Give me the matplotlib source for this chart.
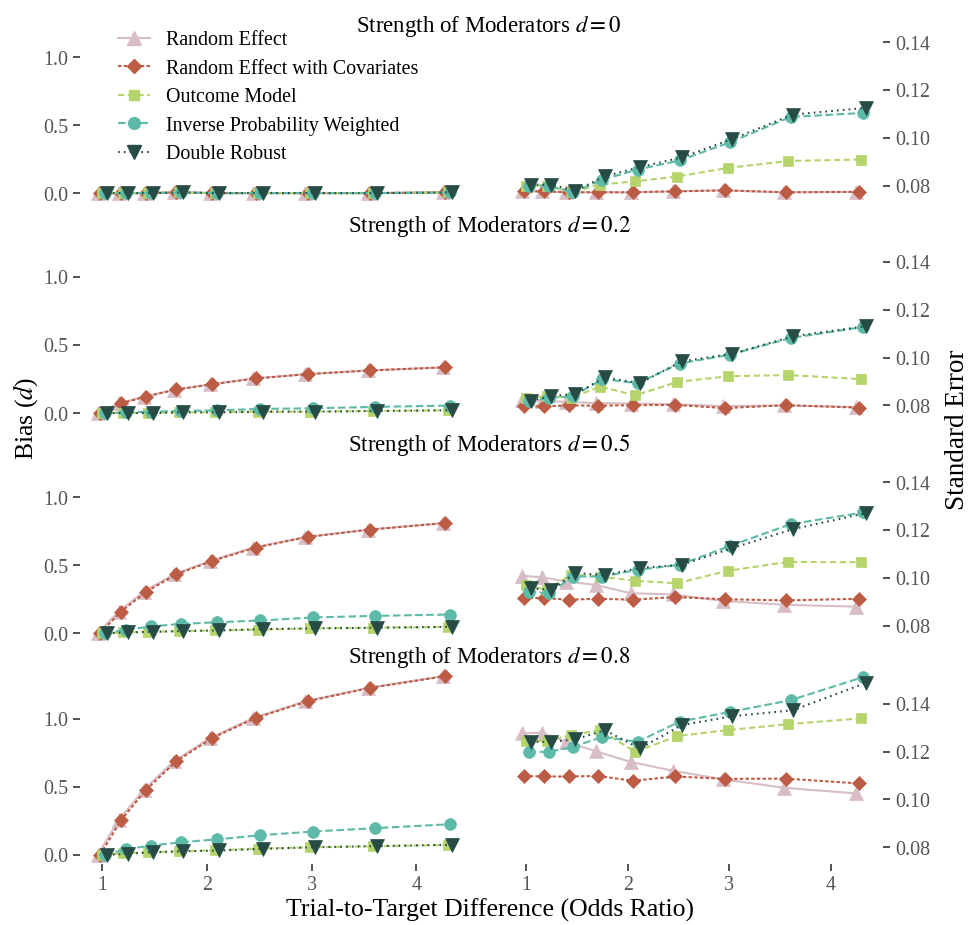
import matplotlib
matplotlib.use("Agg")
import matplotlib.pyplot as plt
from matplotlib.lines import Line2D

plt.rcParams['font.family'] = ['Liberation Serif', 'DejaVu Serif']
plt.rcParams['mathtext.fontset'] = 'stix'
plt.rcParams['lines.scale_dashes'] = False

# x values: trial-to-target odds ratio
odds_ratio = [1.0, 1.2, 1.44, 1.728, 2.074, 2.488, 2.986, 3.583, 4.3]
strengths = ['0', '0.2', '0.5', '0.8']
methods = ['Random Effect', 'Random Effect with Covariates', 'Outcome Model',
           'Inverse Probability Weighted', 'Double Robust']

# bias, one list per moderator strength
bias_re = [[0.0, 0.0, 0.0, 0.005, 0.0, 0.0, 0.0, 0.0, 0.005],
           [0.0, 0.07, 0.12, 0.17, 0.21, 0.254, 0.285, 0.313, 0.335],
           [0.0, 0.158, 0.304, 0.432, 0.531, 0.629, 0.707, 0.761, 0.809],
           [0.0, 0.256, 0.479, 0.688, 0.86, 1.007, 1.13, 1.228, 1.314]]
bias_recov = [[0.0, 0.0, 0.0, 0.005, 0.0, 0.0, 0.0, 0.0, 0.005],
              [0.0, 0.071, 0.121, 0.173, 0.212, 0.254, 0.286, 0.313, 0.336],
              [0.0, 0.158, 0.304, 0.432, 0.531, 0.629, 0.707, 0.761, 0.809],
              [0.0, 0.256, 0.479, 0.688, 0.86, 1.007, 1.13, 1.228, 1.314]]
bias_om = [[0.0, 0.0, 0.0, 0.005, 0.0, 0.0, 0.0, 0.0, 0.005],
           [0.0, 0.0, 0.0, 0.005, 0.005, 0.01, 0.01, 0.015, 0.02],
           [0.0, 0.005, 0.01, 0.015, 0.02, 0.025, 0.035, 0.04, 0.045],
           [0.0, 0.012, 0.02, 0.027, 0.034, 0.047, 0.056, 0.064, 0.074]]
bias_ipw = [[0.0, 0.0, 0.0, 0.005, 0.0, 0.0, 0.0, 0.0, 0.005],
            [0.0, 0.005, 0.01, 0.015, 0.02, 0.03, 0.035, 0.045, 0.055],
            [0.0, 0.024, 0.049, 0.068, 0.08, 0.093, 0.115, 0.127, 0.137],
            [0.0, 0.042, 0.069, 0.093, 0.115, 0.145, 0.172, 0.197, 0.226]]
bias_dr = [[0.0, 0.0, 0.0, 0.005, 0.0, 0.0, 0.0, 0.0, 0.005],
           [0.0, 0.0, 0.0, 0.005, 0.005, 0.01, 0.01, 0.015, 0.02],
           [0.0, 0.005, 0.01, 0.015, 0.02, 0.03, 0.035, 0.04, 0.047],
           [0.0, 0.01, 0.02, 0.027, 0.033, 0.045, 0.057, 0.065, 0.075]]

# standard error, one list per moderator strength
se_re = [[0.0776, 0.0776, 0.0772, 0.0772, 0.0772, 0.0776, 0.0780, 0.0772, 0.0774],
         [0.0822, 0.0818, 0.0815, 0.0810, 0.0808, 0.0805, 0.0797, 0.0800, 0.0793],
         [0.1008, 0.1002, 0.0984, 0.0970, 0.0935, 0.0930, 0.0903, 0.0887, 0.0879],
         [0.1276, 0.1279, 0.1241, 0.1202, 0.1157, 0.1120, 0.1084, 0.1049, 0.1025]]
se_recov = [[0.0776, 0.0776, 0.0772, 0.0772, 0.0772, 0.0776, 0.0780, 0.0772, 0.0774],
            [0.0796, 0.0796, 0.0800, 0.0799, 0.0801, 0.0802, 0.0789, 0.0801, 0.0791],
            [0.0915, 0.0915, 0.0908, 0.0912, 0.0908, 0.0919, 0.0910, 0.0905, 0.0912],
            [0.1098, 0.1096, 0.1096, 0.1098, 0.1078, 0.1096, 0.1086, 0.1087, 0.1067]]
se_om = [[0.0800, 0.0800, 0.0772, 0.0804, 0.0818, 0.0838, 0.0874, 0.0903, 0.0909],
         [0.0831, 0.0839, 0.0831, 0.0879, 0.0842, 0.0898, 0.0922, 0.0927, 0.0910],
         [0.0970, 0.0949, 0.1012, 0.1005, 0.0987, 0.0977, 0.1029, 0.1066, 0.1065],
         [0.1245, 0.1245, 0.1269, 0.1290, 0.1199, 0.1265, 0.1290, 0.1315, 0.1339]]
se_ipw = [[0.0800, 0.0800, 0.0772, 0.0825, 0.0867, 0.0905, 0.0981, 0.1087, 0.1104],
          [0.0817, 0.0831, 0.0839, 0.0910, 0.0893, 0.0975, 0.1012, 0.1082, 0.1128],
          [0.0942, 0.0935, 0.1005, 0.1005, 0.1033, 0.1054, 0.1133, 0.1224, 0.1273],
          [0.1199, 0.1199, 0.1220, 0.1262, 0.1241, 0.1325, 0.1366, 0.1415, 0.1512]]
se_dr = [[0.0804, 0.0804, 0.0778, 0.0839, 0.0877, 0.0918, 0.0995, 0.1097, 0.1125],
         [0.0820, 0.0839, 0.0848, 0.0917, 0.0893, 0.0984, 0.1016, 0.1089, 0.1131],
         [0.0956, 0.0949, 0.1020, 0.1010, 0.1041, 0.1054, 0.1124, 0.1203, 0.1270],
         [0.1241, 0.1241, 0.1251, 0.1290, 0.1213, 0.1311, 0.1348, 0.1373, 0.1487]]

bias_all = [bias_re, bias_recov, bias_om, bias_ipw, bias_dr]
se_all = [se_re, se_recov, se_om, se_ipw, se_dr]

# styles
colors = ['#D8BDC6', '#BD5C45', '#B5D46C', '#5EBAA8', '#264C45']
markers = ['^', 'D', 's', 'o', 'v']
msizes = [10, 7.5, 7, 8.5, 10.5]
lstyles = ['-', (0, (2.5, 1.6)), (0, (4.5, 2.5)), (0, (5.5, 2.5)), (0, (1.2, 3))]
dodge = [-0.045, -0.0225, 0.0, 0.0225, 0.045]

W, H = 978, 925
fig = plt.figure(figsize=((W + 0.5) / 100, (H + 0.5) / 100), dpi=100)

# panel layout in pixels: (top, bottom, left zero px, right 0.08 px)
rows_px = [(32, 205, 193.5, 186.0),
           (252, 425, 413.3, 405.7),
           (470, 645, 633.3, 625.7),
           (664, 864, 855.0, 847.3)]
left_px = (80, 465, 102.3, 104.6)    # left, right, x=1 px, px per unit
right_px = (505, 883, 526.0, 101.4)
bias_scale, se_scale = 136.0, 2390.0

tick_kw = dict(length=5, width=1.2, color='#333333', labelcolor='#555555',
               labelsize=14.4, pad=3.5)


def make_axes(xpx, top, bot):
    l, r = xpx[0], xpx[1]
    ax = fig.add_axes([l / W, 1 - bot / H, (r - l) / W, (bot - top) / H])
    ax.set_xlim(1 - (xpx[2] - l) / xpx[3], 1 + (r - xpx[2]) / xpx[3])
    for s in ax.spines.values():
        s.set_visible(False)
    ax.patch.set_alpha(0)
    return ax


for i, (top, bot, zero_px, ref_px) in enumerate(rows_px):
    axl = make_axes(left_px, top, bot)
    axl.set_ylim((zero_px - bot) / bias_scale, (zero_px - top) / bias_scale)
    axr = make_axes(right_px, top, bot)
    axr.set_ylim(0.08 - (bot - ref_px) / se_scale, 0.08 + (ref_px - top) / se_scale)

    for m in range(5):
        xs = [x + dodge[m] for x in odds_ratio]
        style = dict(color=colors[m], marker=markers[m], ms=msizes[m],
                     ls=lstyles[m], lw=1.5, mec=colors[m], mew=0.5)
        axl.plot(xs, bias_all[m][i], **style)
        axr.plot(xs, se_all[m][i], **style)

    axl.set_yticks([0.0, 0.5, 1.0], ['0.0', '0.5', '1.0'])
    axl.tick_params(axis='y', **tick_kw)
    axr.yaxis.tick_right()
    axr.set_yticks([0.08, 0.10, 0.12, 0.14], ['0.08', '0.10', '0.12', '0.14'])
    axr.tick_params(axis='y', **tick_kw)
    for ax in (axl, axr):
        ax.set_xticks([1, 2, 3, 4], ['1', '2', '3', '4'])
        if i < 3:
            ax.tick_params(axis='x', bottom=False, labelbottom=False)
        else:
            ax.tick_params(axis='x', **tick_kw)

    baseline = [32, 232, 451, 663][i]
    fig.text(0.5, 1 - baseline / H, f'Strength of Moderators $d = {strengths[i]}$',
             ha='center', va='baseline', fontsize=16.5)

fig.text(26 / W, 1 - 418 / H, 'Bias ($d$)', rotation=90, ha='center', va='center',
         fontsize=18.5)
fig.text(957 / W, 1 - 430 / H, 'Standard Error', rotation=90, ha='center',
         va='center', fontsize=19.5)
fig.text(490 / W, 1 - 916 / H, 'Trial-to-Target Difference (Odds Ratio)',
         ha='center', va='baseline', fontsize=18.5)

handles = [Line2D([], [], color=colors[m], marker=markers[m], ms=msizes[m],
                  ls=lstyles[m], lw=1.5, mec=colors[m]) for m in range(5)]
fig.legend(handles, methods, loc='upper left', bbox_to_anchor=(118 / W, 1 - 31 / H),
           frameon=False, fontsize=14.4, handlelength=1.6, handletextpad=0.8,
           labelspacing=0.48, borderpad=0, borderaxespad=0)

fig.savefig('out.png', dpi=100)
